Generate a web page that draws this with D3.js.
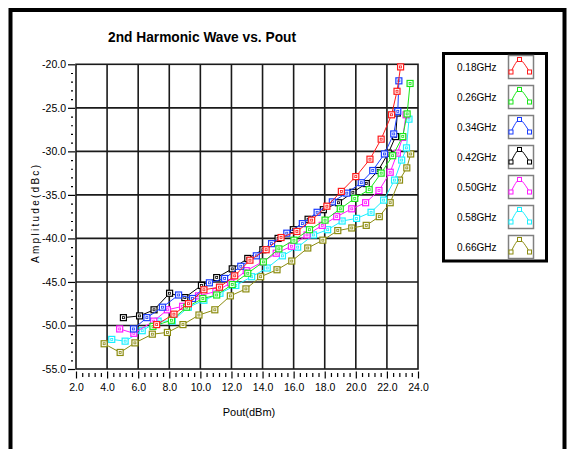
<!DOCTYPE html>
<html>
<head>
<meta charset="utf-8">
<script src="https://cdn.jsdelivr.net/npm/d3@7"></script>
<style>
body { margin: 0; background: #fff; }
svg text { font-family: "Liberation Sans", Arial, sans-serif; }
</style>
</head>
<body>
<script>
// series names and colours
var freqs = ["0.18GHz", "0.26GHz", "0.34GHz", "0.42GHz", "0.50GHz", "0.58GHz", "0.66GHz"];
var colors = ["#ff1a1a", "#19e619", "#1a3cff", "#000000", "#ff19ff", "#19f0ff", "#8c8c10"];

// Pout(dBm) / Amplitude(dBc) per frequency
var pout018 = [7.19, 8.30, 9.23, 10.23, 11.23, 12.21, 13.19, 14.23, 15.19, 16.21, 17.16, 18.14, 19.07, 20.0, 20.91, 21.63, 22.30, 22.65, 22.88];
var amp018  = [-49.9, -48.7, -47.5, -45.9, -45.6, -44.3, -42.5, -41.3, -39.9, -39.2, -37.9, -36.3, -34.6, -32.9, -30.9, -28.6, -25.8, -23.1, -20.3];

var pout026 = [6.95, 8.14, 9.12, 10.16, 11.05, 12.05, 13.05, 14.05, 15.05, 16.02, 17.02, 18.02, 19.0, 19.93, 20.86, 21.63, 22.37, 23.02, 23.30, 23.49];
var amp026  = [-50.1, -49.4, -47.9, -46.9, -46.5, -45.3, -44.0, -42.7, -41.2, -40.2, -39.0, -37.9, -36.6, -35.4, -34.4, -32.5, -30.5, -28.3, -25.7, -22.2];

var pout034 = [5.70, 6.56, 7.56, 8.60, 9.50, 10.58, 11.56, 12.60, 13.60, 14.58, 15.56, 16.56, 17.51, 18.49, 19.42, 20.35, 21.09, 21.84, 22.44, 22.70, 22.77];
var amp034  = [-50.4, -49.1, -47.9, -46.5, -46.9, -45.1, -44.6, -43.2, -42.0, -40.6, -39.4, -38.3, -37.0, -35.8, -34.8, -33.6, -32.2, -30.3, -28.0, -25.4, -21.9];

var pout042 = [5.05, 6.09, 7.02, 8.02, 9.0, 10.07, 11.05, 12.05, 13.05, 14.02, 15.0, 15.98, 16.93, 17.91, 18.88, 19.81, 20.67, 21.44, 22.09, 22.56, 22.67];
var amp042  = [-49.1, -48.9, -48.2, -46.3, -46.8, -45.4, -44.5, -43.5, -42.3, -41.3, -40.0, -39.0, -37.8, -36.7, -35.9, -34.7, -33.7, -32.2, -30.2, -28.3, -25.6];

var pout050 = [4.81, 5.72, 7.0, 7.88, 8.86, 9.88, 11.0, 11.95, 12.95, 14.0, 14.88, 15.86, 16.86, 17.84, 18.77, 19.74, 20.63, 21.49, 22.21, 22.67, 23.02, 23.23];
var amp050  = [-50.4, -50.9, -49.5, -48.2, -47.8, -46.6, -46.1, -45.1, -43.7, -42.7, -41.7, -40.9, -39.6, -38.5, -37.5, -36.6, -35.9, -34.5, -32.4, -30.2, -28.4, -25.8];

var pout058 = [4.30, 5.16, 6.26, 7.28, 8.19, 9.23, 10.23, 11.26, 12.28, 13.30, 14.30, 15.28, 16.26, 17.28, 18.19, 19.12, 20.05, 20.98, 21.79, 22.49, 22.95, 23.26, 23.42];
var amp058  = [-51.6, -51.8, -50.6, -49.5, -49.5, -47.9, -47.1, -46.3, -45.4, -44.4, -43.4, -42.0, -41.0, -39.6, -39.0, -38.0, -37.7, -37.0, -35.6, -33.3, -31.0, -29.6, -26.3];

var pout066 = [3.81, 4.84, 5.79, 6.91, 7.88, 8.88, 9.91, 10.93, 11.93, 12.93, 13.88, 14.93, 15.88, 16.91, 17.88, 18.84, 19.74, 20.67, 21.51, 22.21, 22.81, 23.28, 23.53];
var amp066  = [-52.1, -53.1, -52.0, -51.0, -50.8, -49.9, -48.8, -48.2, -46.6, -45.8, -44.4, -43.6, -42.6, -41.1, -40.2, -39.1, -38.8, -38.5, -37.5, -35.9, -33.3, -31.9, -30.3];

var xTicks = [2, 4, 6, 8, 10, 12, 14, 16, 18, 20, 22, 24];
var yTicks = [-20, -25, -30, -35, -40, -45, -50, -55];

var pouts = [pout018, pout026, pout034, pout042, pout050, pout058, pout066];
var amps = [amp018, amp026, amp034, amp042, amp050, amp058, amp066];

var w = 567, h = 449;
var svg = d3.select("body").append("svg")
      .attr("width", w)
      .attr("height", h);

svg.append("rect").attr("width", w).attr("height", h).attr("fill", "#fff");

// outer frame (bottom runs off the picture)
svg.append("rect")
   .attr("x", 10.5).attr("y", 10)
   .attr("width", 554).attr("height", 460)
   .attr("fill", "none")
   .attr("stroke", "#000")
   .attr("stroke-width", 4);

svg.append("text")
   .attr("x", 108).attr("y", 42)
   .attr("font-size", "15px")
   .attr("font-weight", "bold")
   .attr("textLength", 188)
   .attr("lengthAdjust", "spacingAndGlyphs")
   .text("2nd Harmonic Wave vs. Pout");

var x = d3.scaleLinear().domain([2, 24]).range([76, 418]);
var y = d3.scaleLinear().domain([-20, -55]).range([64.3, 369]);

// grid
svg.selectAll(".vgrid")
   .data(xTicks.slice(1, -1))
   .enter().append("line")
   .attr("x1", function(d) { return x(d); })
   .attr("x2", function(d) { return x(d); })
   .attr("y1", y(-20)).attr("y2", y(-55))
   .attr("stroke", "#1a1a1a")
   .attr("stroke-width", 1.6);

svg.selectAll(".hgrid")
   .data(yTicks.slice(1, -1))
   .enter().append("line")
   .attr("x1", x(2)).attr("x2", x(24))
   .attr("y1", function(d) { return y(d); })
   .attr("y2", function(d) { return y(d); })
   .attr("stroke", "#1a1a1a")
   .attr("stroke-width", 1.6);

svg.append("rect")
   .attr("x", x(2)).attr("y", y(-20))
   .attr("width", x(24) - x(2)).attr("height", y(-55) - y(-20))
   .attr("fill", "none")
   .attr("stroke", "#1a1a1a")
   .attr("stroke-width", 1.6);

// y axis
var yAxis = svg.append("g")
   .attr("transform", "translate(" + (x(2) - 1) + ",0)")
   .call(d3.axisLeft(y).tickValues(yTicks).tickSize(7).tickPadding(2)
         .tickFormat(function(d) { return d.toFixed(1); }));
yAxis.select(".domain").remove();
yAxis.selectAll("text").attr("font-size", "10.5px").attr("fill", "#000")
     .attr("font-family", "\"Liberation Sans\", Arial, sans-serif");
yAxis.selectAll("line").attr("stroke", "#000").attr("stroke-width", 1.2);

var yMinor = svg.append("g")
   .attr("transform", "translate(" + (x(2) - 3) + ",0)")
   .call(d3.axisLeft(y).tickValues(d3.range(-21, -55, -1).filter(function(d) { return d % 5 != 0; }))
         .tickSize(2).tickFormat(""));
yMinor.select(".domain").remove();
yMinor.selectAll("line").attr("stroke", "#000").attr("stroke-width", 1.2);

// x axis (ticks sit a little below the frame)
var xAxis = svg.append("g")
   .attr("transform", "translate(0," + (y(-55) + 2.5) + ")")
   .call(d3.axisBottom(x).tickValues(xTicks).tickSize(7).tickPadding(5)
         .tickFormat(function(d) { return d.toFixed(1); }));
xAxis.select(".domain").remove();
xAxis.selectAll("text").attr("font-size", "10.5px").attr("fill", "#000")
     .attr("font-family", "\"Liberation Sans\", Arial, sans-serif");
xAxis.selectAll("line").attr("stroke", "#000").attr("stroke-width", 1.2);

var xMinorVals = [];
for (i = 0; i < 55; i++) {
  if (i % 5 != 0) xMinorVals.push(2 + i * 0.4);
}
var xMinor = svg.append("g")
   .attr("transform", "translate(0," + (y(-55) + 4) + ")")
   .call(d3.axisBottom(x).tickValues(xMinorVals).tickSize(4).tickFormat(""));
xMinor.select(".domain").remove();
xMinor.selectAll("line").attr("stroke", "#000").attr("stroke-width", 1.2);

svg.append("text")
   .attr("x", 249).attr("y", 416)
   .attr("text-anchor", "middle")
   .attr("font-size", "11px")
   .text("Pout(dBm)");

svg.append("text")
   .attr("transform", "translate(39,214) rotate(-90)")
   .attr("text-anchor", "middle")
   .attr("font-size", "10px")
   .attr("textLength", 98)
   .attr("lengthAdjust", "spacing")
   .text("Amplitude(dBc)");

// series
var line = d3.line()
   .x(function(d) { return x(d[0]); })
   .y(function(d) { return y(d[1]); });

for (s = 6; s >= 0; s--) {
  var pts = d3.zip(pouts[s], amps[s]);
  svg.append("path")
     .datum(pts)
     .attr("d", line)
     .attr("fill", "none")
     .attr("stroke", colors[s])
     .attr("stroke-width", 1);

  var mk = svg.selectAll(".mk" + s)
     .data(pts)
     .enter().append("g")
     .attr("transform", function(d) { return "translate(" + x(d[0]) + "," + y(d[1]) + ")"; });
  mk.append("rect")
     .attr("x", -3).attr("y", -3).attr("width", 6).attr("height", 6)
     .attr("fill", "#fff")
     .attr("stroke", colors[s])
     .attr("stroke-width", 1.2);
  mk.append("rect")
     .attr("x", -1).attr("y", -1).attr("width", 2).attr("height", 2)
     .attr("fill", "none")
     .attr("stroke", colors[s])
     .attr("stroke-width", 0.8);
}

// legend
svg.append("rect")
   .attr("x", 443.5).attr("y", 53.5)
   .attr("width", 103).attr("height", 207.5)
   .attr("fill", "#fff")
   .attr("stroke", "#000")
   .attr("stroke-width", 3);

var symLine = d3.line().curve(d3.curveCardinal);

var leg = svg.selectAll(".leg")
   .data(freqs)
   .enter().append("g")
   .attr("transform", function(d, i) { return "translate(0," + (i * 30) + ")"; });

leg.append("text")
   .attr("x", 457).attr("y", 70.5)
   .attr("font-size", "10px")
   .text(function(d) { return d; });

leg.append("rect")
   .attr("x", 508.5).attr("y", 55.5)
   .attr("width", 25).attr("height", 23)
   .attr("fill", "#fff")
   .attr("stroke", "#808080")
   .attr("stroke-width", 1.5);

leg.append("path")
   .attr("d", symLine([[511, 72], [519.5, 59.5], [529.5, 72]]))
   .attr("fill", "none")
   .attr("stroke", function(d, i) { return colors[i]; })
   .attr("stroke-width", 1);

leg.selectAll(".sm")
   .data(function(d, i) { return [[511, 72, i], [519.5, 59.5, i], [529.5, 72, i]]; })
   .enter().append("rect")
   .attr("x", function(d) { return d[0] - 2; })
   .attr("y", function(d) { return d[1] - 2; })
   .attr("width", 4).attr("height", 4)
   .attr("fill", "#fff")
   .attr("stroke", function(d) { return colors[d[2]]; })
   .attr("stroke-width", 1);
</script>
</body>
</html>
